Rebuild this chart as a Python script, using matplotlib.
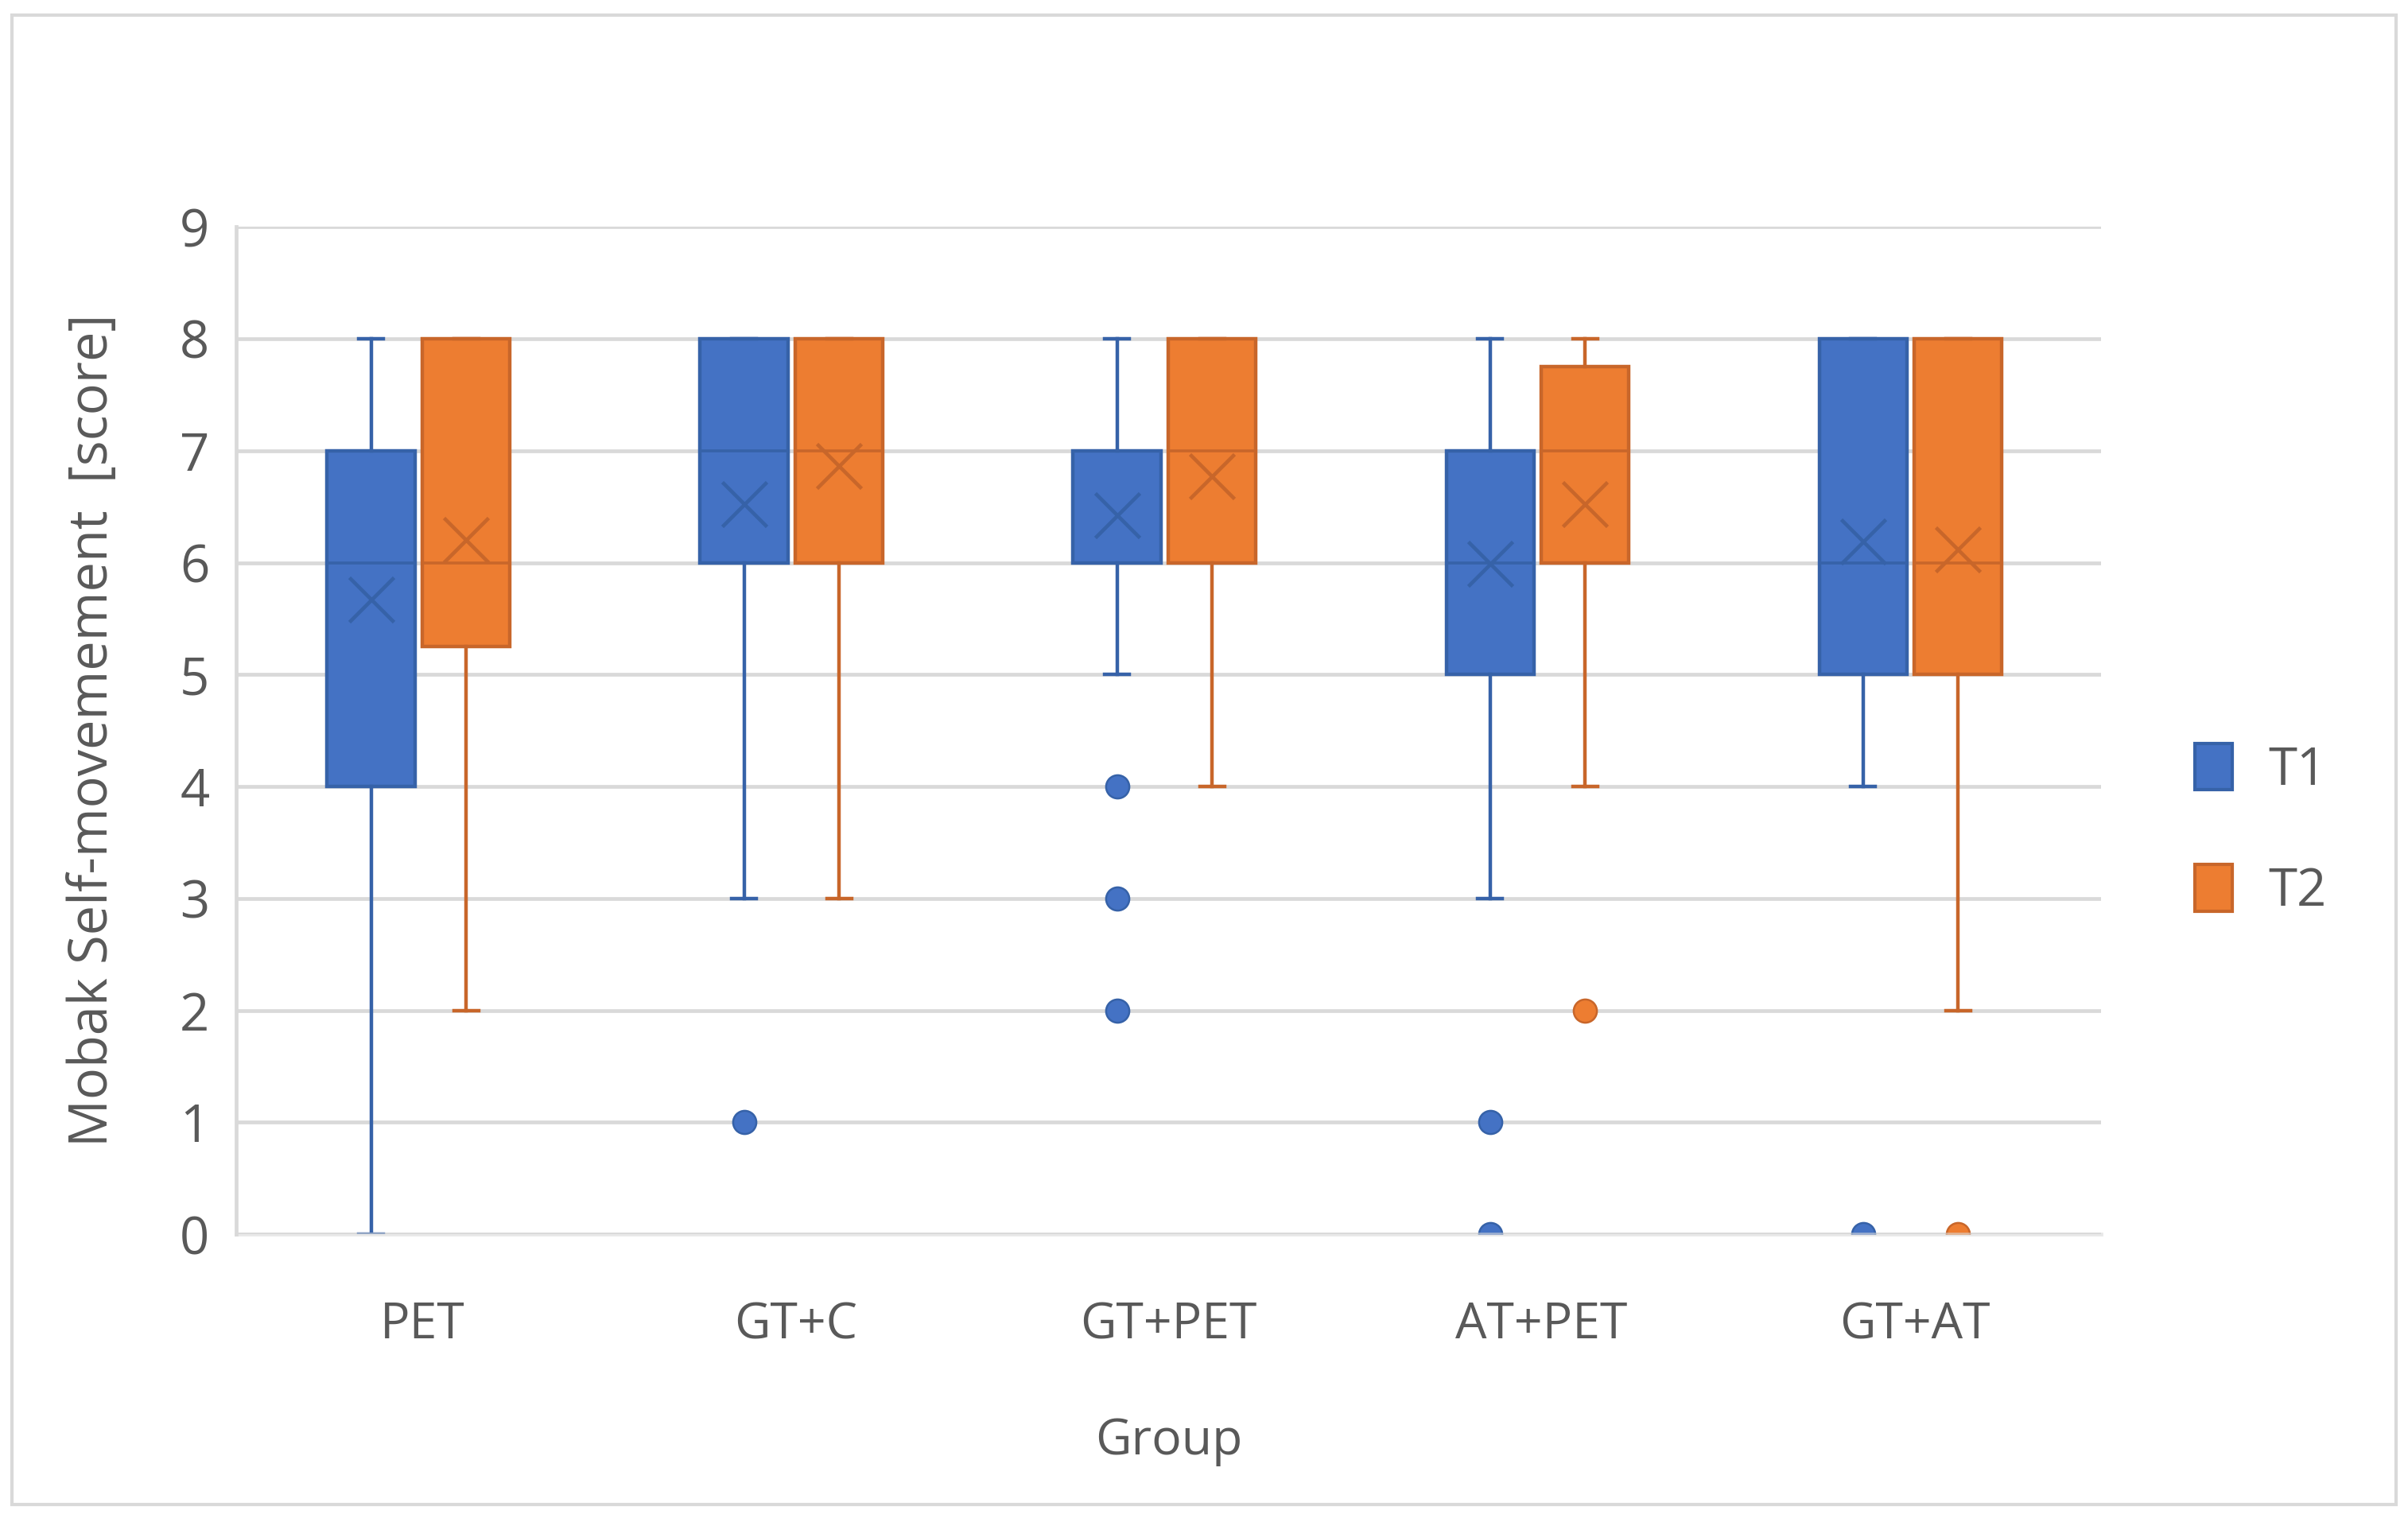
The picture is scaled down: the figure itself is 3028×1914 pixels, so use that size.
"""
Mobak self-movement scores at T1 and T2 per training group (box plot)
"""

import matplotlib
matplotlib.use("Agg")
import matplotlib.pyplot as plt
from matplotlib.patches import Rectangle, Patch

plt.rcParams['font.family'] = ['Open Sans', 'DejaVu Sans']

# Data
groups = ["PET", "GT+C", "GT+PET", "AT+PET", "GT+AT"]

t1_low = [0, 3, 5, 3, 4]
t1_q1 = [4, 6, 6, 5, 5]
t1_med = [6, 7, 6, 6, 6]
t1_q3 = [7, 8, 7, 7, 8]
t1_high = [8, 8, 8, 8, 8]
t1_mean = [5.67, 6.52, 6.42, 5.99, 6.19]
t1_out = [[], [1], [4, 3, 2], [1, 0], [0]]

t2_low = [2, 3, 4, 4, 2]
t2_q1 = [5.25, 6, 6, 6, 5]
t2_med = [6, 7, 7, 7, 6]
t2_q3 = [8, 8, 8, 7.75, 8]
t2_high = [8, 8, 8, 8, 8]
t2_mean = [6.2, 6.86, 6.77, 6.52, 6.12]
t2_out = [[], [], [], [2], [0]]

y_ticks = list(range(0, 10))

BLUE, BLUE_EDGE = '#4472C4', '#3662A8'
ORANGE, ORANGE_EDGE = '#ED7D31', '#C8662A'
GRID = '#D9D9D9'
TEXT = '#595959'


def make_stats(low, q1, med, q3, high, mean, out):
    stats = []
    for i in range(len(low)):
        stats.append(dict(whislo=low[i], q1=q1[i], med=med[i], q3=q3[i],
                          whishi=high[i], mean=mean[i], fliers=out[i]))
    return stats


def draw_series(ax, stats, positions, fill, edge):
    ax.bxp(stats, positions=positions, widths=0.235, patch_artist=True,
           showmeans=True, meanline=False, manage_ticks=False,
           boxprops=dict(facecolor=fill, edgecolor=edge, linewidth=3.2),
           medianprops=dict(color=edge, linewidth=2.6),
           whiskerprops=dict(color=edge, linewidth=3.2),
           capprops=dict(color=edge, linewidth=3.2),
           capwidths=0.066,
           meanprops=dict(marker='x', markersize=40, markeredgecolor=edge,
                          markeredgewidth=3.3),
           flierprops=dict(marker='o', markersize=21, markerfacecolor=fill,
                           markeredgecolor=edge, markeredgewidth=1.8))


fig = plt.figure(figsize=(30.28, 19.14), dpi=100)
ax = fig.add_axes([0.098, 0.189, 0.7745, 0.662])

x = list(range(len(groups)))
pos_t1 = [i - 0.138 for i in x]
pos_t2 = [i + 0.117 for i in x]

draw_series(ax, make_stats(t1_low, t1_q1, t1_med, t1_q3, t1_high, t1_mean, t1_out),
            pos_t1, BLUE, BLUE_EDGE)
draw_series(ax, make_stats(t2_low, t2_q1, t2_med, t2_q3, t2_high, t2_mean, t2_out),
            pos_t2, ORANGE, ORANGE_EDGE)

ax.set_xlim(-0.5, len(groups) - 0.5)
ax.set_ylim(0, 9)
ax.set_yticks(y_ticks)
ax.set_xticks(x)
ax.set_xticklabels(groups)
ax.set_axisbelow(True)
ax.yaxis.grid(True, color=GRID, linewidth=3.4)
ax.axhline(0, color=GRID, linewidth=3.4, alpha=0.6, zorder=5, clip_on=False)

for side in ['top', 'right', 'bottom']:
    ax.spines[side].set_visible(False)
ax.spines['left'].set_color(GRID)
ax.spines['left'].set_linewidth(3.4)

ax.tick_params(axis='y', length=0, pad=24, labelsize=47, labelcolor=TEXT)
ax.tick_params(axis='x', length=0, pad=60, labelsize=45, labelcolor=TEXT)

ax.set_xlabel('Group', fontsize=45, color=TEXT, labelpad=60)
ax.set_ylabel('Mobak Self-movemement  [score]', fontsize=48, color=TEXT,
              labelpad=54)

handles = [Patch(facecolor=BLUE, edgecolor=BLUE_EDGE, linewidth=3, label='T1'),
           Patch(facecolor=ORANGE, edgecolor=ORANGE_EDGE, linewidth=3, label='T2')]
fig.legend(handles=handles, loc='center left', bbox_to_anchor=(0.892, 0.454),
           frameon=False, fontsize=47, labelcolor=TEXT, handlelength=0.72,
           handleheight=1.0, handletextpad=0.7, labelspacing=1.3)

# light border around the whole chart
fig.patches.append(Rectangle((0.005, 0.0115), 0.99, 0.9786, transform=fig.transFigure,
                             fill=False, edgecolor=GRID, linewidth=3))

fig.savefig('out.png', dpi=100)
